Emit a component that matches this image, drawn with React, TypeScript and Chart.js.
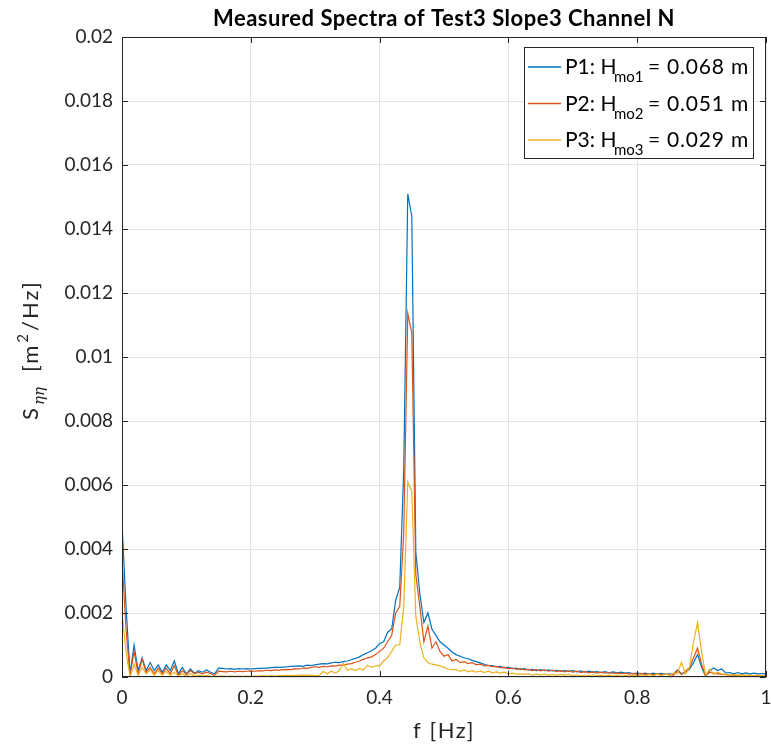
import React, { useEffect, useRef } from 'react';
import { Chart, registerables } from 'chart.js';

Chart.register(...registerables);

// Frequency step of the spectrum (Hz)
const DF = 0.00625;

const P1 = [
  0.0048, 0.0022, 0.0001, 0.001, 0.0002, 0.0006, 0.0002, 0.00045, 0.0002, 0.00038,
  0.00015, 0.00038, 0.0002, 0.0005, 0.0001, 0.0003, 0.0001, 0.00025, 0.00012, 0.0002,
  0.00015, 0.00022, 0.00015, 0.0001, 0.00028, 0.00027, 0.00025, 0.00026, 0.00024, 0.00026,
  0.00025, 0.00026, 0.00025, 0.00026, 0.00027, 0.00027, 0.00028, 0.00029, 0.0003, 0.0003,
  0.00031, 0.00032, 0.00033, 0.00034, 0.00035, 0.00033, 0.00037, 0.00036, 0.00038, 0.0004,
  0.00042, 0.00041, 0.00044, 0.00046, 0.00045, 0.00048, 0.0005, 0.00054, 0.00058, 0.00063,
  0.0007, 0.00076, 0.00082, 0.0009, 0.00105, 0.0011, 0.0014, 0.0015, 0.0024, 0.0028,
  0.0065, 0.0151, 0.0144, 0.0039, 0.0026, 0.0017, 0.002, 0.0015, 0.0013, 0.0011,
  0.001, 0.0009, 0.00078, 0.0007, 0.00065, 0.0006, 0.00057, 0.00052, 0.00048, 0.00044,
  0.0004, 0.00036, 0.00036, 0.00032, 0.00033, 0.00029, 0.0003, 0.00026, 0.00028, 0.00024,
  0.00026, 0.00022, 0.00024, 0.0002, 0.00023, 0.0002, 0.00022, 0.00019, 0.00021, 0.00018,
  0.0002, 0.00018, 0.0002, 0.00016, 0.00019, 0.00015, 0.00018, 0.00015, 0.00017, 0.00014,
  0.00017, 0.00013, 0.00016, 0.00013, 0.00015, 0.00012, 0.00014, 0.0001, 0.00013, 0.0001,
  0.00012, 0.00008, 0.00012, 0.00009, 0.00011, 0.00008, 0.0001, 0.00008, 0.00022, 0.0001,
  0.00015, 0.00025, 0.00045, 0.0007, 0.0003, 0.00002, 0.0002, 0.00028, 0.0002, 0.00025,
  0.00012, 0.00014, 0.0001, 0.00014, 0.0001, 0.00013, 0.0001, 0.00012, 0.0001, 0.00011,
  0.0001,
];

const P2 = [
  0.0037, 0.0015, 0.00005, 0.0008, 0.0001, 0.00055, 0.00015, 0.0003, 0.0001, 0.00028,
  0.0001, 0.00028, 0.0001, 0.00035, 0.00005, 0.0002, 0.00008, 0.0002, 0.0001, 0.00015,
  0.0001, 0.00015, 0.0001, 0.00005, 0.00018, 0.00017, 0.00016, 0.00018, 0.00016, 0.00018,
  0.00017, 0.00018, 0.00019, 0.00018, 0.0002, 0.00019, 0.00021, 0.0002, 0.00022, 0.00021,
  0.00023, 0.00024, 0.00023, 0.00026, 0.00025, 0.00028, 0.00027, 0.0003, 0.00032, 0.0003,
  0.00033, 0.00032, 0.00035, 0.00034, 0.00037, 0.00037, 0.0004, 0.00042, 0.00046, 0.0005,
  0.00055, 0.0006, 0.00063, 0.0007, 0.0008, 0.0009, 0.0011, 0.0013, 0.002, 0.0022,
  0.0045, 0.01136, 0.01075, 0.0032, 0.0022, 0.0011, 0.0016, 0.0009, 0.0011, 0.0008,
  0.00065, 0.0007, 0.0005, 0.00055, 0.00045, 0.00048, 0.00042, 0.00045, 0.00038, 0.0004,
  0.00035, 0.00036, 0.00032, 0.00033, 0.00029, 0.0003, 0.00026, 0.00028, 0.00024, 0.00026,
  0.00022, 0.00024, 0.0002, 0.00023, 0.00019, 0.00022, 0.00018, 0.00021, 0.00017, 0.0002,
  0.00016, 0.00019, 0.00015, 0.00018, 0.00014, 0.00017, 0.00013, 0.00016, 0.00012, 0.00015,
  0.00012, 0.00014, 0.00011, 0.00013, 0.0001, 0.00012, 0.00009, 0.00011, 0.00008, 0.00011,
  0.00008, 0.0001, 0.00007, 0.0001, 0.00007, 0.00009, 0.00007, 0.00006, 0.0002, 0.00008,
  0.00018, 0.0003, 0.0006, 0.0009, 0.0004, 0.00005, 0.00015, 0.00012, 0.0001, 0.00008,
  0.00007, 0.00006, 0.00006, 0.00005, 0.00006, 0.00005, 0.00005, 0.00004, 0.00005, 0.00004,
  0.00004,
];

const P3 = [
  0.002, 0.0008, 0.0, 0.0004, 0.00005, 0.0003, 0.0001, 0.00022, 0.00005, 0.0002,
  0.00005, 0.00018, 0.00005, 0.00015, 0.00003, 0.0001, 0.00003, 0.0001, 0.00003, 0.00006,
  0.00003, 0.00005, 0.00002, 0.00002, 0.00003, 0.00003, 0.00002, 0.00003, 0.00002, 0.00003,
  0.00002, 0.00003, 0.00002, 0.00003, 0.00003, 0.00004, 0.00003, 0.00004, 0.00003, 0.00004,
  0.00004, 0.00005, 0.00004, 0.00005, 0.00005, 0.00006, 0.00005, 0.00006, 0.00004, 0.00005,
  0.00017, 0.0001, 0.00018, 0.00012, 0.0002, 0.00043, 0.0002, 0.00025, 0.0002, 0.00027,
  0.00022, 0.00037, 0.0003, 0.00035, 0.00035, 0.0005, 0.0006, 0.0008, 0.001, 0.001,
  0.0022, 0.0061, 0.0058, 0.0019, 0.0011, 0.0006, 0.00045, 0.0004, 0.00038, 0.00035,
  0.0003, 0.00025, 0.00022, 0.00024, 0.00018, 0.00022, 0.00016, 0.0002, 0.00015, 0.00019,
  0.00014, 0.00018, 0.00013, 0.00016, 0.00012, 0.00015, 0.0001, 0.00012, 0.00009, 0.0001,
  0.00008, 0.0001, 0.00006, 0.00009, 0.00006, 0.00009, 0.00005, 0.00008, 0.00005, 0.00008,
  0.00005, 0.00008, 0.00004, 0.00007, 0.00004, 0.00007, 0.00004, 0.00007, 0.00004, 0.00006,
  0.00003, 0.00006, 0.00003, 0.00006, 0.00002, 0.00005, 0.00002, 0.00006, 0.00003, 0.00007,
  0.00003, 0.00008, 0.00004, 0.00009, 0.00004, 0.0001, 0.00005, 0.00012, 0.0001, 0.00045,
  0.0001, 0.0003, 0.0011, 0.0017, 0.0008, 0.00005, 0.00025, 0.00008, 0.00015, 0.0001,
  0.00008, 0.00006, 0.00007, 0.00005, 0.00006, 0.00005, 0.00005, 0.00004, 0.00005, 0.00004,
  0.00004,
];

const X_TICKS = [0, 0.2, 0.4, 0.6, 0.8, 1];
const Y_TICKS = [0, 0.002, 0.004, 0.006, 0.008, 0.01, 0.012, 0.014, 0.016, 0.018, 0.02];

const TITLE = 'Measured Spectra of Test3 Slope3 Channel N';
const X_LABEL = 'f [Hz]';
const LEGEND_NAMES = ['P1: H', 'P2: H', 'P3: H'];
const LEGEND_SUBS = ['mo1', 'mo2', 'mo3'];
const LEGEND_VALUES = ['= 0.068 m', '= 0.051 m', '= 0.029 m'];
const COLORS = ['#0072BD', '#D95319', '#EDB120'];

const FONT = 'Lato, "DejaVu Sans", sans-serif';
const AXIS_COLOR = '#262626';

const FREQ = P1.map((_, i) => +(i * DF).toFixed(5));

const overlay = {
  id: 'overlay',
  afterDraw(chart: any) {
    const { ctx, chartArea: a, scales } = chart;
    ctx.save();
    // axes box
    ctx.strokeStyle = AXIS_COLOR;
    ctx.lineWidth = 1;
    ctx.strokeRect(a.left + 0.5, a.top + 0.5, a.right - a.left - 1, a.bottom - a.top - 1);
    // inward ticks on all sides
    const TL = 6;
    ctx.beginPath();
    X_TICKS.forEach((v) => {
      const px = Math.round(scales.x.getPixelForValue(v)) + 0.5;
      ctx.moveTo(px, a.bottom);
      ctx.lineTo(px, a.bottom - TL);
      ctx.moveTo(px, a.top);
      ctx.lineTo(px, a.top + TL);
    });
    Y_TICKS.forEach((v) => {
      const py = Math.round(scales.y.getPixelForValue(v)) + 0.5;
      ctx.moveTo(a.left, py);
      ctx.lineTo(a.left + TL, py);
      ctx.moveTo(a.right, py);
      ctx.lineTo(a.right - TL, py);
    });
    ctx.stroke();

    // title
    const cx = (a.left + a.right) / 2;
    ctx.fillStyle = '#000';
    ctx.textAlign = 'center';
    ctx.textBaseline = 'alphabetic';
    ctx.font = `bold 22px ${FONT}`;
    (ctx as any).letterSpacing = '0.5px';
    ctx.fillText(TITLE, cx, 26);

    // x label
    ctx.fillStyle = AXIS_COLOR;
    ctx.font = `22px ${FONT}`;
    (ctx as any).letterSpacing = '1.5px';
    ctx.fillText(X_LABEL, cx, 738);

    // y label (rotated, with subscript and superscript)
    ctx.save();
    ctx.translate(38, 421);
    ctx.rotate(-Math.PI / 2);
    ctx.textAlign = 'left';
    (ctx as any).letterSpacing = '0px';
    ctx.font = `22px ${FONT}`;
    ctx.fillText('S', 1, 0);
    ctx.font = `italic 15px "DejaVu Serif", serif`;
    ctx.fillText('\u03B7\u03B7', 16, 6);
    ctx.font = `22px ${FONT}`;
    (ctx as any).letterSpacing = '2px';
    let off = 49;
    ctx.fillText('[m', off, 0);
    off += ctx.measureText('[m').width + 1;
    ctx.font = `15px ${FONT}`;
    ctx.fillText('2', off, -10);
    off += ctx.measureText('2').width + 1;
    ctx.font = `22px ${FONT}`;
    ctx.fillText('/Hz]', off, 0);
    ctx.restore();
    (ctx as any).letterSpacing = '0px';

    // legend
    const lx = 524, ly = 47, lw = 229, lh = 111;
    ctx.fillStyle = '#fff';
    ctx.fillRect(lx, ly, lw, lh);
    ctx.strokeStyle = AXIS_COLOR;
    ctx.lineWidth = 1;
    ctx.strokeRect(lx + 0.5, ly + 0.5, lw, lh);
    for (let i = 0; i < 3; i++) {
      const yy = 67 + i * 36.5;
      ctx.strokeStyle = COLORS[i];
      ctx.lineWidth = 1.3;
      ctx.beginPath();
      ctx.moveTo(528, yy);
      ctx.lineTo(561, yy);
      ctx.stroke();
      ctx.fillStyle = '#000';
      ctx.textAlign = 'left';
      const base = yy + 7;
      ctx.font = `21px ${FONT}`;
      ctx.fillText(LEGEND_NAMES[i], 565, base);
      ctx.font = `15px ${FONT}`;
      ctx.fillText(LEGEND_SUBS[i], 614, base + 8);
      ctx.font = `21px ${FONT}`;
      ctx.textAlign = 'right';
      (ctx as any).letterSpacing = '0.8px';
      ctx.fillText(LEGEND_VALUES[i], 749, base);
      (ctx as any).letterSpacing = '0px';
    }
    ctx.restore();
  },
};

export default function App() {
  const ref = useRef<HTMLCanvasElement | null>(null);
  useEffect(() => {
    if (!ref.current) return;
    const series = [P1, P2, P3];
    const chart = new Chart(ref.current, {
      type: 'line',
      data: {
        datasets: series.map((s, k) => ({
          label: `P${k + 1}`,
          data: s.map((v, i) => ({ x: FREQ[i], y: v })),
          borderColor: COLORS[k],
          backgroundColor: COLORS[k],
          borderWidth: 1.2,
          pointRadius: 0,
          tension: 0,
          fill: false,
          order: 3 - k,
        })),
      },
      options: {
        responsive: false,
        animation: false,
        devicePixelRatio: 1,
        layout: { padding: { left: 0, top: 37, right: 5, bottom: 0 } },
        plugins: { legend: { display: false }, title: { display: false }, tooltip: { enabled: false } },
        scales: {
          x: {
            type: 'linear',
            min: 0,
            max: 1,
            afterBuildTicks: (s: any) => { s.ticks = X_TICKS.map((v) => ({ value: v })); },
            afterFit: (s: any) => { s.height = 73; s.paddingLeft = 0; s.paddingRight = 0; },
            grid: { color: '#e3e3e3', drawTicks: false },
            border: { display: false },
            ticks: {
              padding: 9,
              color: AXIS_COLOR,
              font: { family: FONT, size: 19 },
              maxRotation: 0,
              callback: (v: any) => String(+(+v).toFixed(1)),
            },
          },
          y: {
            type: 'linear',
            min: 0,
            max: 0.02,
            afterBuildTicks: (s: any) => { s.ticks = Y_TICKS.map((v) => ({ value: v })); },
            afterFit: (s: any) => { s.width = 122; s.paddingTop = 0; s.paddingBottom = 0; },
            grid: { color: '#e3e3e3', drawTicks: false },
            border: { display: false },
            ticks: {
              padding: 9,
              color: AXIS_COLOR,
              font: { family: FONT, size: 19 },
              callback: (v: any) => (v === 0 ? '0' : String(+(+v).toFixed(3))),
            },
          },
        },
      },
      plugins: [overlay],
    } as any);
    return () => chart.destroy();
  }, []);
  return (
    <div style={{ position: 'absolute', left: 0, top: 0, width: 771, height: 750, background: '#fff' }}>
      <canvas ref={ref} width={771} height={750} />
    </div>
  );
}
